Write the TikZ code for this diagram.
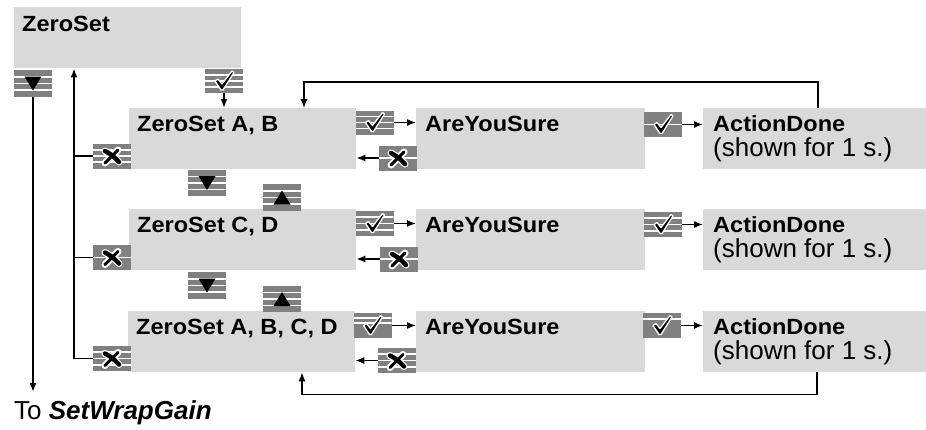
\documentclass[tikz,border=0pt]{standalone}
\usepackage{fontspec}
\setmainfont{Liberation Sans}
\newfontfamily\titlefont{Liberation Sans}[FakeStretch=1.07]
\usetikzlibrary{calc,arrows.meta}
\definecolor{boxgrey}{RGB}{217,217,217}
\definecolor{keygrey}{RGB}{128,128,128}
\tikzset{
  screen/.style={fill=boxgrey, inner sep=0pt, anchor=north west, minimum width=227pt, minimum height=61pt},
  title/.style={anchor=base west, inner sep=0pt, font=\titlefont\bfseries\fontsize{22}{26}\selectfont},
  note/.style={anchor=base west, inner sep=0pt, font=\fontsize{26}{28}\selectfont},
  keycap/.style={fill=keygrey, inner sep=0pt, minimum width=38pt, minimum height=25pt},
  bands/.style={path picture={\foreach \f in {#1}
      \draw[white, line width=1.8pt]
        ($(path picture bounding box.north west)!\f!(path picture bounding box.south west)$) --
        ($(path picture bounding box.north east)!\f!(path picture bounding box.south east)$);}},
  striped/.style={bands={0.25,0.5,0.75}},
  midline/.style={bands={0.5}},
  wire/.style={line width=1.4pt},
  arr/.style={wire, -{Latex[length=9pt,width=7pt]}},
  pics/down/.style={code={\fill (-8.5,-7) -- (8.5,-7) -- (0,7) -- cycle;}},
  pics/up/.style={code={\fill (-8.5,7) -- (8.5,7) -- (0,-7) -- cycle;}},
  pics/tick/.style={code={\filldraw[fill=black, draw=white, line width=1.3pt, line join=round]
      (-9,0) -- (-6,-2) -- (-2,3) -- (8,-10) -- (10,-8.5) -- (-1,9) -- (-3,9) -- cycle;}},
  pics/cross/.style={code={
      \draw[white, line width=7pt, line cap=round] (-7,-5) .. controls (0,-1) .. (7,6) (-7,7) .. controls (-1,1) .. (6,-6);
      \draw[line width=4.5pt, line cap=round] (-7,-5) .. controls (0,-1) .. (7,6);
      \draw[line width=3pt, line cap=round] (-7,7) .. controls (-1,1) .. (6,-6);}},
}
\begin{document}
\begin{tikzpicture}[x=1pt, y=-1pt]
  \useasboundingbox (0,0) rectangle (926,429);
  % screens
  \node[screen] (zs) at (14,7) {};
  \node[screen] (ab) at (129,108) {};
  \node[screen] (cd) at (129,209) {};
  \node[screen] (abcd) at (128,311) {};
  \node[screen, minimum width=229pt] (ays1) at (416,108) {};
  \node[screen, minimum width=229pt] (ays2) at (416,209) {};
  \node[screen, minimum width=229pt] (ays3) at (416,311) {};
  \node[screen, minimum width=223pt] (ad1) at (703,108) {};
  \node[screen, minimum width=223pt] (ad2) at (703,209) {};
  \node[screen, minimum width=223pt] (ad3) at (703,311) {};
  % texts
  \node[title] (zs-t) at ($(zs.north west)+(8,24)$) {ZeroSet};
  \node[title] (ab-t) at ($(ab.north west)+(8,23)$) {ZeroSet A, B};
  \node[title] (cd-t) at ($(cd.north west)+(8,23)$) {ZeroSet C, D};
  \node[title] (abcd-t) at ($(abcd.north west)+(8,23)$) {ZeroSet A, B, C, D};
  \node[title] (ays1-t) at ($(ays1.north west)+(9,23)$) {AreYouSure};
  \node[title] (ays2-t) at ($(ays2.north west)+(9,23)$) {AreYouSure};
  \node[title] (ays3-t) at ($(ays3.north west)+(9,23)$) {AreYouSure};
  \node[title] (ad1-t) at ($(ad1.north west)+(10,23)$) {ActionDone};
  \node[title] (ad2-t) at ($(ad2.north west)+(10,23)$) {ActionDone};
  \node[title] (ad3-t) at ($(ad3.north west)+(10,23)$) {ActionDone};
  \node[note] (ad1-n) at ($(ad1-t.base west)+(0,25)$) {(shown for 1 s.)};
  \node[note] (ad2-n) at ($(ad2-t.base west)+(0,25)$) {(shown for 1 s.)};
  \node[note] (ad3-n) at ($(ad3-t.base west)+(0,25)$) {(shown for 1 s.)};
  \node[note] (exit-t) at (14,419) {To \textbf{\textit{SetWrapGain}}};
  % keys
  \node[keycap, striped, minimum height=27pt] (kdn) at (33,83.5) {};
  \node[keycap, striped, minimum height=24pt] (ok0) at (224,81) {};
  \node[keycap, striped] (no-l1) at (112,156) {};
  \node[keycap, striped, minimum height=24pt] (ok1) at (374.5,122.5) {};
  \node[keycap, midline] (no1) at (398,158) {};
  \node[keycap, midline] (ok4) at (663,124.5) {};
  \node[keycap, striped, minimum height=26pt] (dn1) at (207,183) {};
  \node[keycap, striped, minimum height=27pt] (up1) at (282,197.5) {};
  \node[keycap, midline] (no-l2) at (112,257.5) {};
  \node[keycap, striped] (ok2) at (374.5,223.5) {};
  \node[keycap, midline] (no2) at (399,259) {};
  \node[keycap, striped] (ok5) at (663,224.5) {};
  \node[keycap, striped, minimum height=27pt] (dn2) at (207,285.5) {};
  \node[keycap, striped, minimum height=26pt] (up2) at (282,299) {};
  \node[keycap, striped] (no-l3) at (112,358.5) {};
  \node[keycap, bands={0.2,0.4}] (ok3) at (372.5,325.5) {};
  \node[keycap, striped] (no3) at (397,360.5) {};
  \node[keycap, bands={0.23}] (ok6) at (662,325.5) {};
  \foreach \k in {kdn,dn1,dn2} \pic at (\k) {down};
  \foreach \k in {up1,up2} \pic at (\k) {up};
  \foreach \k in {ok0,ok1,ok2,ok3,ok4,ok5,ok6} \pic at (\k) {tick};
  \foreach \k in {no-l1,no-l2,no-l3,no1,no2,no3} \pic at (\k) {cross};
  % connectors
  \coordinate (exit) at (33,392);
  \coordinate (bus) at ($(zs.south west)+(60,0)$);
  \draw[arr, line width=1.8pt] (kdn.south) -- (exit);
  \draw[arr, line width=1.8pt] (no-l3.west) -| (bus);
  \draw[wire, line width=1.8pt] (no-l1.west) -- (no-l1.west -| bus);
  \draw[wire, line width=1.8pt] (no-l2.west) -- (no-l2.west -| bus);
  \draw[arr] (ok0.south) -- (ok0.south |- ab.north);
  \draw[arr] (ok1.east) -- (ok1.east -| ays1.west);
  \draw[arr] (ok2.east) -- (ok2.east -| ays2.west);
  \draw[arr] (ok3.east) -- (ok3.east -| ays3.west);
  \draw[arr] (no1.west) -- (no1.west -| ab.east);
  \draw[arr] (no2.west) -- (no2.west -| cd.east);
  \draw[arr] (no3.west) -- (no3.west -| abcd.east);
  \draw[arr] (ok4.east) -- (ok4.east -| ad1.west);
  \draw[arr] (ok5.east) -- (ok5.east -| ad2.west);
  \draw[arr] (ok6.east) -- (ok6.east -| ad3.west);
  \coordinate (ad1-out) at ($(ad1.north west)+(115,0)$);
  \coordinate (ab-in) at ($(ab.north west)+(175,0)$);
  \draw[arr, line width=1.1pt] (ad1-out) -- ++(0,-26) -| (ab-in);
  \coordinate (ad3-out) at ($(ad3.south west)+(114,0)$);
  \coordinate (abcd-in) at ($(abcd.south west)+(174,0)$);
  \draw[arr, line width=1.1pt] (ad3-out) -- ++(0,22) -| (abcd-in);
\end{tikzpicture}
\end{document}
